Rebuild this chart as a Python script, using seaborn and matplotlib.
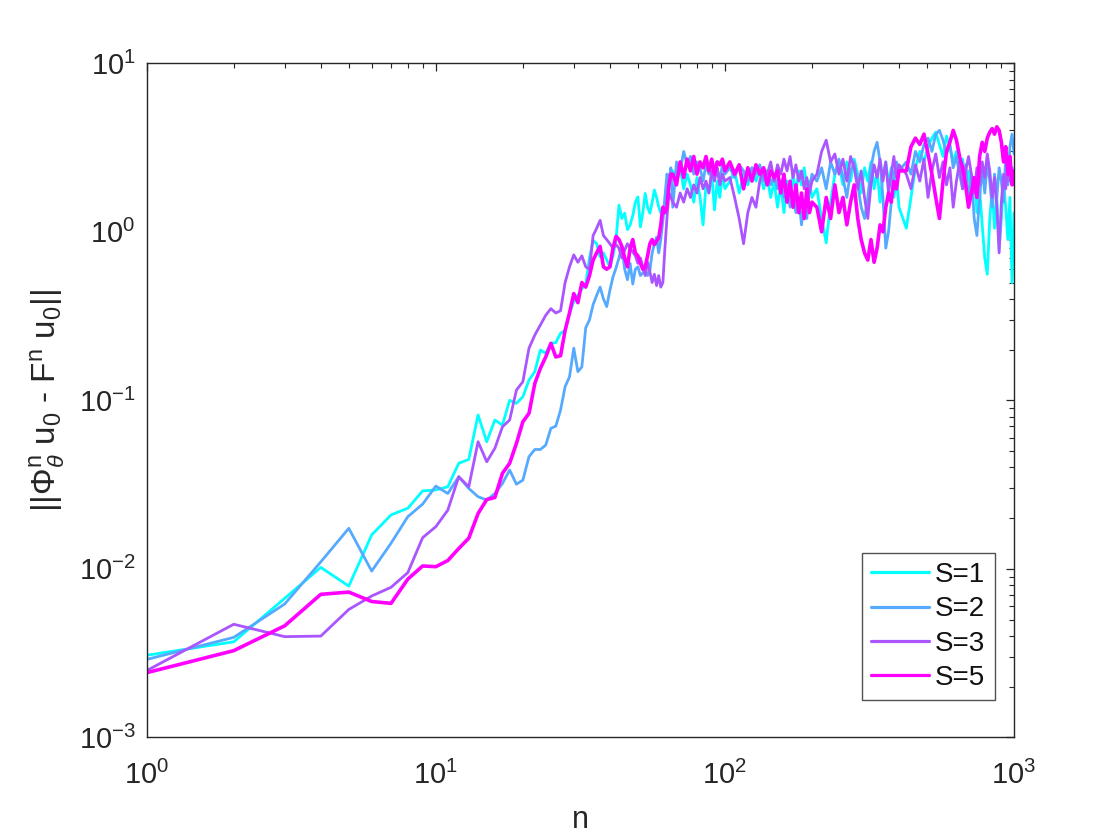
import numpy as np
import pandas as pd
import seaborn as sns
import matplotlib
matplotlib.use("Agg")
import matplotlib.pyplot as plt
from matplotlib.ticker import LogLocator, NullFormatter

# error norm vs step n, for four values of S
s_labels = ["S=1", "S=2", "S=3", "S=5"]
s_colors = ["#00ffff", "#55aaff", "#aa55ff", "#ff00ff"]   # matlab "cool" colormap, 4 levels

# n = 1..65, every step
n_head = np.arange(1, 66)
# after n = 65 the curves are read at a coarser grid
n_tail = np.concatenate([np.arange(66, 101, 2), np.arange(104, 201, 4),
                         np.arange(208, 401, 8), np.arange(424, 1001, 16)])

s1_head = [0.00307, 0.00369, 0.00668, 0.0102, 0.0079, 0.0159, 0.0209, 0.0229, 0.029, 0.0294,
           0.0307, 0.0423, 0.0446, 0.0819, 0.0568, 0.0764, 0.0713, 0.100, 0.096, 0.105,
           0.132, 0.148, 0.199, 0.190, 0.218, 0.22, 0.25, 0.26, 0.33, 0.385,
           0.42, 0.46, 0.49, 0.70, 0.89, 0.85, 0.71, 0.75, 0.68, 0.62,
           0.72, 0.9, 1.44, 1.2, 1.29, 1.03, 1.1, 1.25, 1.5, 1.61,
           1.07, 1.3, 1.69, 1.4, 1.29, 1.5, 1.77, 1.6, 1.41, 1.3,
           1.2, 1.5, 1.9, 2.0, 2.33]
s1_tail = [2.3, 2.0, 2.4, 1.8, 2.2, 1.9, 1.5, 2.1, 1.6, 1.1, 1.9, 1.7, 2.2, 1.35, 2.0, 1.6, 2.2, 1.8,
           2.0, 2.3, 1.7, 2.2, 1.9, 2.4, 2.0, 2.3, 1.8, 2.1, 1.6, 2.0, 1.4, 1.9, 1.3, 2.0, 1.5, 2.2,
           1.7, 2.3, 1.9, 2.4, 1.8, 2.0, 1.6,
           1.8, 1.2, 0.86, 1.5, 2.2, 2.5, 1.9, 2.6, 2.0, 2.7, 2.2, 1.7, 2.4, 2.0, 2.6, 1.8, 2.3, 1.5,
           2.2, 2.6, 1.9, 2.4, 1.6, 2.1, 1.4,
           1.05, 1.6, 2.4, 3.0, 2.6, 3.2, 3.6, 3.9, 3.3, 2.8, 3.7, 3.2, 2.6, 3.0, 2.2, 2.7, 1.9, 2.3,
           1.6, 2.1, 1.3, 1.8, 1.1, 0.7, 0.56, 1.2, 1.8, 1.05, 1.6, 0.8, 1.2, 2.0, 1.4, 0.9, 1.6,
           0.5, 1.3]

s2_head = [0.0029, 0.00392, 0.00618, 0.0110, 0.0174, 0.0097, 0.0142, 0.0204, 0.0242, 0.031,
           0.028, 0.0352, 0.030, 0.0268, 0.0256, 0.028, 0.0321, 0.0386, 0.0318, 0.0336,
           0.0463, 0.0511, 0.0511, 0.0543, 0.0682, 0.0703, 0.0875, 0.1205, 0.138, 0.204,
           0.148, 0.158, 0.27, 0.30, 0.37, 0.42, 0.47, 0.40, 0.36, 0.45,
           0.54, 0.61, 0.70, 0.82, 0.60, 0.52, 0.65, 0.49, 0.60, 0.62,
           0.55, 0.57, 0.60, 0.55, 0.59, 0.75, 0.85, 0.93, 0.75, 0.90,
           1.17, 1.6, 2.2, 2.0, 2.4]
s2_tail = [1.4, 2.6, 2.3, 3.0, 2.5, 2.8, 2.2, 2.6, 2.4, 2.0, 2.5, 2.2, 2.6, 2.1, 2.4, 2.0, 2.5, 2.2,
           2.4, 2.1, 2.5, 2.3, 2.0, 2.4, 2.2, 2.5, 2.0, 2.3, 1.9, 2.2, 1.8, 2.0, 1.6, 1.9, 1.4, 1.7,
           1.3, 1.6, 1.1, 1.5, 1.2, 1.8, 2.2,
           2.0, 2.4, 1.8, 2.6, 2.2, 2.7, 2.1, 1.6, 2.3, 2.6, 1.9, 1.4, 1.2, 1.6, 2.4, 3.0, 3.4, 2.6,
           1.6, 0.8, 1.0, 1.5, 2.2, 2.6, 2.3,
           2.6, 2.2, 3.0, 2.6, 3.3, 3.6, 3.0, 3.8, 4.0, 3.5, 2.9, 3.3, 2.4, 2.8, 2.2, 1.8, 2.5, 1.5,
           2.2, 1.2, 0.95, 1.6, 2.4, 1.7, 2.6, 2.0, 1.4, 2.2, 1.6, 2.4, 2.0, 1.5, 2.8, 1.9, 3.2,
           3.8, 2.9]

s3_head = [0.00249, 0.00469, 0.00396, 0.00399, 0.00574, 0.0069, 0.00777, 0.0095, 0.0153, 0.0178,
           0.0223, 0.0352, 0.0307, 0.0568, 0.0432, 0.0519, 0.0697, 0.0764, 0.115, 0.129,
           0.204, 0.244, 0.28, 0.32, 0.35, 0.33, 0.34, 0.50, 0.62, 0.73,
           0.66, 0.72, 0.62, 0.60, 0.95, 1.05, 1.17, 0.95, 0.90, 0.85,
           0.80, 0.84, 0.80, 0.70, 0.78, 0.85, 0.80, 0.76, 0.72, 0.65,
           0.70, 0.62, 0.55, 0.66, 0.58, 0.50, 0.56, 0.48, 0.55, 0.47,
           0.50, 0.80, 1.20, 1.70, 1.60]
s3_tail = [1.5, 1.4, 1.7, 1.5, 1.8, 1.6, 1.9, 1.7, 2.1, 1.8, 2.0, 1.7, 2.3, 2.0, 2.4, 1.9, 2.2, 2.0,
           2.1, 1.6, 1.2, 0.85, 1.3, 1.6, 1.4, 2.0, 2.4, 2.2, 2.6, 2.0, 2.5, 2.2, 2.7, 2.3, 2.8, 2.1,
           2.5, 2.0, 2.3, 1.8, 2.1, 1.7, 2.0,
           2.2, 3.0, 3.5, 2.6, 2.9, 2.2, 2.7, 2.0, 2.8, 2.4, 1.8, 2.3, 1.6, 1.2, 1.9, 2.5, 2.1, 2.7,
           2.0, 2.6, 1.7, 2.2, 2.8, 2.1, 2.5,
           2.2, 1.8, 2.5, 2.0, 2.7, 1.6, 2.3, 2.9, 2.1, 2.6, 1.9, 2.4, 1.4, 2.0, 2.6, 1.8, 2.3, 2.8,
           2.2, 1.7, 2.4, 1.9, 2.6, 2.1, 2.9, 2.3, 1.6, 2.1, 1.4, 0.75, 1.5, 2.2, 1.8, 2.6, 2.0,
           2.4, 1.9]

s5_head = [0.00242, 0.00327, 0.00459, 0.00706, 0.00728, 0.0064, 0.00624, 0.00869, 0.0104, 0.0103,
           0.0112, 0.0132, 0.0152, 0.0213, 0.0258, 0.0265, 0.0369, 0.0423, 0.0555, 0.0746,
           0.0837, 0.126, 0.155, 0.181, 0.218, 0.181, 0.184, 0.26, 0.33, 0.43,
           0.38, 0.50, 0.47, 0.55, 0.68, 0.75, 0.82, 0.62, 0.60, 0.62,
           0.80, 0.94, 0.90, 0.82, 0.70, 0.62, 0.80, 0.90, 0.75, 0.72,
           0.65, 0.60, 0.62, 0.72, 0.85, 0.90, 0.84, 0.88, 0.92, 1.10,
           1.40, 1.30, 1.40, 1.90, 2.20]
s5_tail = [2.2, 1.9, 2.6, 2.1, 2.7, 2.3, 2.8, 2.2, 2.6, 2.4, 2.8, 2.3, 2.7, 2.2, 2.6, 2.5, 2.7, 2.3,
           2.6, 2.2, 2.5, 1.8, 2.4, 2.0, 2.5, 2.2, 2.4, 1.9, 2.3, 2.1, 2.3, 1.7, 2.2, 1.5, 2.0, 1.4,
           1.9, 1.3, 1.7, 1.2, 1.8, 1.3, 1.5,
           1.4, 1.0, 1.6, 1.2, 1.9, 1.3, 1.6, 1.1, 1.5, 1.9, 1.2, 0.9, 0.75, 0.68, 0.9, 0.66, 0.8,
           1.1, 1.0, 1.4, 1.7, 1.5, 2.0, 1.8, 2.3,
           2.3, 3.2, 3.6, 3.3, 3.8, 2.9, 2.2, 1.6, 1.2, 2.0, 3.0, 3.4, 4.0, 3.5, 2.8, 2.4, 1.9, 1.4,
           1.7, 2.1, 1.6, 2.8, 3.4, 3.0, 3.6, 3.9, 4.1, 3.8, 4.2, 4.0, 3.4, 2.6, 3.2, 2.2, 2.8,
           1.9, 2.3]

n_all = np.concatenate([n_head, n_tail])
series = {
    "S=1": s1_head + s1_tail,
    "S=2": s2_head + s2_tail,
    "S=3": s3_head + s3_tail,
    "S=5": s5_head + s5_tail,
}
frames = []
for lab in s_labels:
    vals = series[lab]
    assert len(vals) == len(n_all), (lab, len(vals), len(n_all))
    frames.append(pd.DataFrame({"n": n_all, "err": vals, "S": lab}))
df = pd.concat(frames, ignore_index=True)

sns.set_theme(style="white")
plt.rcParams["font.family"] = ["Liberation Sans", "DejaVu Sans"]
plt.rcParams["mathtext.fontset"] = "custom"
plt.rcParams["mathtext.rm"] = "Liberation Sans"
plt.rcParams["mathtext.it"] = "Liberation Sans:italic"
plt.rcParams["mathtext.default"] = "regular"
plt.rcParams["axes.unicode_minus"] = False

fig = plt.figure(figsize=(11.2, 8.4), dpi=100)
ax = fig.add_axes([0.131, 0.1222, 0.7744, 0.8024])

sns.lineplot(data=df, x="n", y="err", hue="S", hue_order=s_labels,
             palette=dict(zip(s_labels, s_colors)), estimator=None,
             linewidth=2.0, legend=False, ax=ax)
lines = ax.get_lines()
lines[3].set_linewidth(2.6)

ax.set_xscale("log")
ax.set_yscale("log")
ax.set_xlim(1, 1000)
ax.set_ylim(1e-3, 1e1)

ax.xaxis.set_major_locator(LogLocator(base=10, numticks=10))
ax.yaxis.set_major_locator(LogLocator(base=10, numticks=10))
ax.xaxis.set_minor_locator(LogLocator(base=10, subs=np.arange(2, 10), numticks=20))
ax.yaxis.set_minor_locator(LogLocator(base=10, subs=np.arange(2, 10), numticks=20))
ax.xaxis.set_minor_formatter(NullFormatter())
ax.yaxis.set_minor_formatter(NullFormatter())

ax.tick_params(which="both", direction="in", top=True, right=True,
               color="#262626", labelcolor="#262626")
ax.tick_params(which="major", length=6, width=0.9, labelsize=21)
ax.tick_params(axis="y", which="major", pad=8)
ax.tick_params(axis="x", which="major", pad=17)
ax.tick_params(which="minor", length=3.5, width=0.8)
for sp in ax.spines.values():
    sp.set_color("#262626")
    sp.set_linewidth(1.0)

ax.set_xlabel("n", fontsize=22, color="#262626", labelpad=11)
ax.set_ylabel(r"||$\Phi^{n}_{\mathit{\theta}}$ u$_{0}$ - F$^{n}$ u$_{0}$||",
              fontsize=24, color="#262626", labelpad=8)

leg = ax.legend(lines, s_labels, loc="lower right", bbox_to_anchor=(0.9776, 0.0553),
                fontsize=20, frameon=True, fancybox=False, handlelength=2.1,
                borderpad=0.33, labelspacing=0.3, handletextpad=0.22,
                borderaxespad=0)
leg.get_frame().set_edgecolor("#262626")
leg.get_frame().set_linewidth(1.0)
for t in leg.get_texts():
    t.set_color("#111111")
for h in leg.get_lines():
    h.set_linewidth(2.3)

fig.savefig("out.png", dpi=100)
